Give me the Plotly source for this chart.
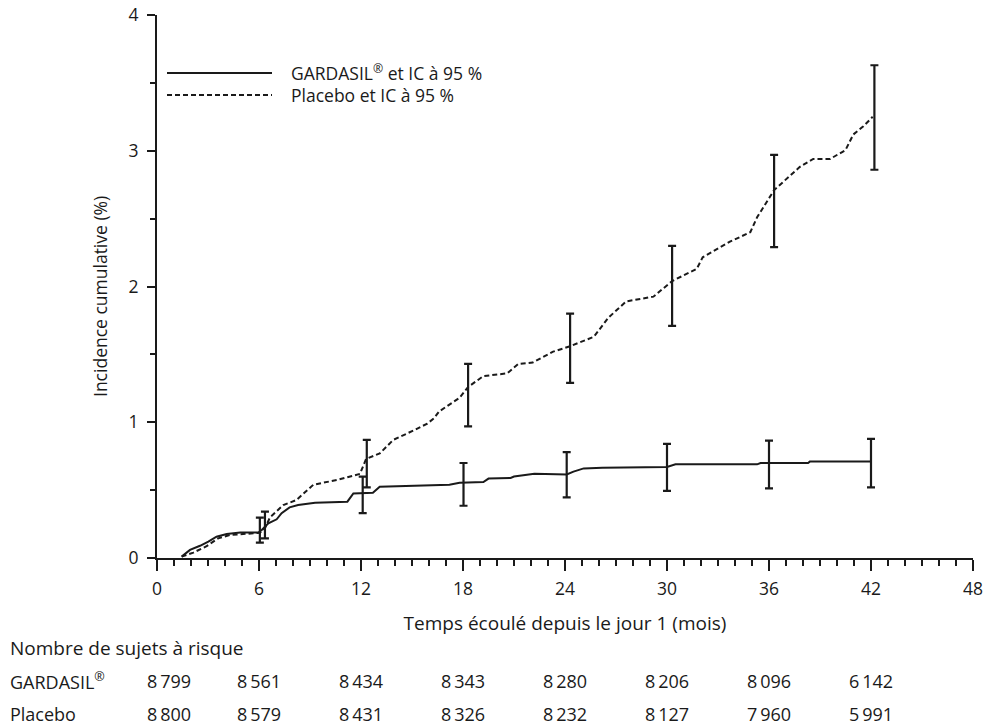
import plotly.graph_objects as go

# ---------------- data ----------------
gardasil_months = [1.45, 1.94, 2.53, 3.02, 3.5, 4.1, 4.9, 5.96, 6.16, 6.55, 7.04, 7.33, 7.8, 8.3,
                   9.3, 11.2, 11.55, 12.7, 13.1, 17.2, 17.8, 19.2, 19.5, 20.8, 21.0, 22.2, 24.1,
                   24.5, 25.1, 26.2, 30.0, 30.5, 35.3, 35.5, 38.3, 38.4, 42.0]
gardasil_inc = [0.01, 0.06, 0.09, 0.12, 0.157, 0.177, 0.187, 0.187, 0.206, 0.255, 0.285, 0.33,
                0.373, 0.39, 0.407, 0.415, 0.476, 0.48, 0.525, 0.54, 0.555, 0.56, 0.585, 0.59,
                0.60, 0.62, 0.615, 0.636, 0.66, 0.665, 0.67, 0.69, 0.69, 0.70, 0.70, 0.71, 0.71]

placebo_months = [1.45, 2.14, 2.92, 3.6, 4.3, 5.3, 6.06, 6.35, 6.65, 7.43, 8.2, 9.2, 10.6, 11.94,
                  12.3, 13.1, 13.9, 15.1, 15.9, 16.3, 16.6, 17.8, 18.3, 19.2, 20.6, 21.26, 22.1,
                  23.3, 24.3, 25.7, 26.55, 27.6, 29.2, 30.3, 31.75, 32.1, 33.7, 34.9, 35.3, 36.3,
                  37.8, 38.6, 39.6, 40.5, 40.96, 41.55, 42.1]
placebo_inc = [0.01, 0.04, 0.087, 0.145, 0.17, 0.18, 0.185, 0.22, 0.30, 0.39, 0.427, 0.54, 0.575,
               0.62, 0.73, 0.77, 0.87, 0.94, 0.99, 1.03, 1.08, 1.18, 1.26, 1.34, 1.36, 1.43, 1.44,
               1.52, 1.56, 1.63, 1.77, 1.89, 1.925, 2.04, 2.13, 2.215, 2.33, 2.40, 2.51, 2.71,
               2.88, 2.94, 2.94, 3.005, 3.12, 3.18, 3.25]

gardasil_ci_months = [6.05, 12.1, 18.03, 24.1, 30.0, 36.0, 42.0]
gardasil_ci_low = [0.113, 0.33, 0.385, 0.447, 0.494, 0.513, 0.52]
gardasil_ci_high = [0.297, 0.60, 0.70, 0.78, 0.84, 0.864, 0.877]

placebo_ci_months = [6.35, 12.34, 18.3, 24.3, 30.3, 36.3, 42.2]
placebo_ci_low = [0.145, 0.52, 0.97, 1.29, 1.71, 2.29, 2.86]
placebo_ci_high = [0.341, 0.87, 1.43, 1.80, 2.30, 2.97, 3.63]

risk_months = [0, 6, 12, 18, 24, 30, 36, 42]
gardasil_risk = [8799, 8561, 8434, 8343, 8280, 8206, 8096, 6142]
placebo_risk = [8800, 8579, 8431, 8326, 8232, 8127, 7960, 5991]

x_ticks = [0, 6, 12, 18, 24, 30, 36, 42, 48]
y_ticks = [0, 1, 2, 3, 4]

legend_labels = ["GARDASIL<sup>®</sup> et IC à 95 %", "Placebo et IC à 95 %"]
row_labels = ["GARDASIL<sup>®</sup>", "Placebo"]
risk_title = "Nombre de sujets à risque"
x_title = "Temps écoulé depuis le jour 1 (mois)"
y_title = "Incidence cumulative (%)"

# ---------------- figure ----------------
FONT = "Open Sans"
BLACK = "#1a1a1a"
DASH = "5px,3px"
fig = go.Figure()

fig.add_trace(go.Scatter(x=gardasil_months, y=gardasil_inc, mode="lines",
                         line=dict(color=BLACK, width=2), showlegend=False))
fig.add_trace(go.Scatter(x=placebo_months, y=placebo_inc, mode="lines",
                         line=dict(color=BLACK, width=2, dash=DASH), showlegend=False))


def ci_trace(xs, lo, hi):
    mid = [(a + b) / 2 for a, b in zip(lo, hi)]
    half = [(b - a) / 2 for a, b in zip(lo, hi)]
    return go.Scatter(x=xs, y=mid, mode="markers", marker=dict(size=1, color="rgba(0,0,0,0)"),
                      error_y=dict(type="data", array=half, visible=True, color=BLACK,
                                   thickness=2.2, width=4),
                      showlegend=False, hoverinfo="skip")


fig.add_trace(ci_trace(gardasil_ci_months, gardasil_ci_low, gardasil_ci_high))
fig.add_trace(ci_trace(placebo_ci_months, placebo_ci_low, placebo_ci_high))

L, R, T, B = 157, 12, 15, 167
W, H = 985, 725
pw, ph = W - L - R, H - T - B


def px_x(p):
    return (p - L) / pw


def px_y(p):
    return (H - B - p) / ph


fig.update_layout(
    width=W, height=H,
    margin=dict(l=L, r=R, t=T, b=B, autoexpand=False),
    paper_bgcolor="white", plot_bgcolor="white",
    font=dict(family=FONT, size=17.5, color=BLACK),
    xaxis=dict(range=[0, 48], tickmode="array", tickvals=x_ticks,
               ticks="outside", ticklen=11, tickwidth=2, tickcolor=BLACK,
               ticklabelstandoff=3,
               showline=True, linewidth=2.2, linecolor=BLACK, showgrid=False, zeroline=False,
               minor=dict(dtick=1, ticks="outside", ticklen=6, tickwidth=1.8, tickcolor=BLACK,
                          showgrid=False),
               title=dict(text=x_title, standoff=18, font=dict(size=19)),
               tickfont=dict(size=17.5)),
    yaxis=dict(range=[0, 4], tickmode="array", tickvals=y_ticks,
               ticks="outside", ticklen=8, tickwidth=2, tickcolor=BLACK,
               ticklabelstandoff=5,
               showline=True, linewidth=2.2, linecolor=BLACK, showgrid=False, zeroline=False,
               minor=dict(dtick=0.5, ticks="outside", ticklen=5, tickwidth=1.8, tickcolor=BLACK,
                          showgrid=False),
               tickfont=dict(size=17.5)),
)

# y-axis title
fig.add_annotation(xref="paper", yref="paper", x=px_x(100), y=px_y(297), text=y_title,
                   textangle=-90, showarrow=False, xanchor="center", yanchor="middle",
                   font=dict(size=17.5))

# custom legend
legend_y = [73, 95]
for ypx, lab, d in zip(legend_y, legend_labels, ["solid", DASH]):
    fig.add_shape(type="line", xref="paper", yref="paper",
                  x0=px_x(167), x1=px_x(272), y0=px_y(ypx), y1=px_y(ypx),
                  line=dict(color=BLACK, width=2, dash=d))
    fig.add_annotation(xref="paper", yref="paper", x=px_x(289), y=px_y(ypx), text=lab,
                       showarrow=False, xanchor="left", yanchor="middle",
                       font=dict(size=17.5, family=FONT, color=BLACK))

# risk table
TABLE_SIZE = 18
fig.add_annotation(xref="paper", yref="paper", x=px_x(8), y=px_y(648), text=risk_title,
                   showarrow=False, xanchor="left", yanchor="middle",
                   font=dict(size=TABLE_SIZE + 1))
for ypx, lab, vals in zip([681, 714], row_labels, [gardasil_risk, placebo_risk]):
    fig.add_annotation(xref="paper", yref="paper", x=px_x(8), y=px_y(ypx), text=lab,
                       showarrow=False, xanchor="left", yanchor="middle",
                       font=dict(size=TABLE_SIZE))
    for i, (m, v) in enumerate(zip(risk_months, vals)):
        txt = f"{v:,}".replace(",", "\u2009")
        fig.add_annotation(xref="x", yref="paper", x=m, y=px_y(ypx), text=txt,
                           showarrow=False, xanchor="center", yanchor="middle",
                           xshift=12 if i == 0 else 0, font=dict(size=TABLE_SIZE))

fig.write_html("out.html", config={"displayModeBar": False},
               post_script="document.body.style.margin='0';")
